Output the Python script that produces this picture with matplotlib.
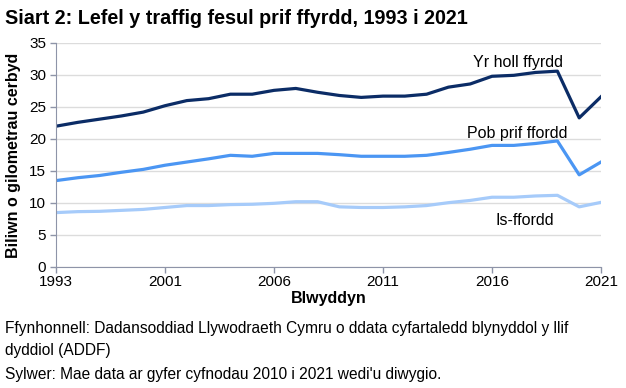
import numpy as np
import matplotlib
matplotlib.use("Agg")
import matplotlib.pyplot as plt

plt.rcParams['font.family'] = ['Liberation Sans', 'DejaVu Sans']

# years on the category axis (only every fifth is labelled)
years = ['1993', '1995', '1997', '1999', '2000', '2001', '2002', '2003', '2004',
         '2005', '2006', '2007', '2008', '2009', '2010', '2011', '2012', '2013',
         '2014', '2015', '2016', '2017', '2018', '2019', '2020', '2021']
tick_years = ['1993', '2001', '2006', '2011', '2016', '2021']

all_roads = [22.0, 22.6, 23.1, 23.6, 24.2, 25.2, 26.0, 26.3, 27.0, 27.0, 27.6, 27.9,
             27.3, 26.8, 26.5, 26.7, 26.7, 27.0, 28.1, 28.6, 29.8, 29.95, 30.4, 30.6,
             23.3, 26.6]
major_roads = [13.5, 13.95, 14.3, 14.8, 15.25, 15.9, 16.4, 16.9, 17.45, 17.3, 17.75,
               17.75, 17.75, 17.55, 17.3, 17.3, 17.3, 17.45, 17.9, 18.4, 19.0, 19.0,
               19.3, 19.7, 14.4, 16.4]
minor_roads = [8.5, 8.65, 8.7, 8.85, 9.0, 9.3, 9.6, 9.6, 9.75, 9.8, 9.95, 10.2, 10.2,
               9.4, 9.3, 9.3, 9.4, 9.6, 10.05, 10.4, 10.9, 10.9, 11.1, 11.2, 9.4, 10.1]

series = [
    ('Yr holl ffyrdd', all_roads, '#0b2c66'),
    ('Pob prif ffordd', major_roads, '#4b96f3'),
    ('Is-ffordd', minor_roads, '#a6cbfa'),
]

fig = plt.figure(figsize=(6.26, 3.88), dpi=100)
ax = fig.add_axes([56/626, 1-267/388, (601-56)/626, (267-43)/388])

x = np.arange(len(years))
for name, vals, col in series:
    ax.plot(x, vals, color=col, lw=2.3, solid_joinstyle='round')

ax.set_xlim(0, len(years)-1)
ax.set_ylim(0, 35)
ax.set_yticks(np.arange(0, 36, 5))
ax.set_xticks([years.index(y) for y in tick_years])
ax.set_xticklabels(tick_years)
ax.tick_params(axis='both', labelsize=11, color='#8e94a8', length=4, width=1)
ax.tick_params(axis='x', pad=2)
ax.tick_params(axis='y', pad=3)
ax.grid(axis='y', color='#dcdcdc', lw=1)
ax.set_axisbelow(True)
for s in ['top', 'right']:
    ax.spines[s].set_visible(False)
for s in ['left', 'bottom']:
    ax.spines[s].set_color('#8e94a8')

ax.set_xlabel('Blwyddyn', fontsize=11.5, fontweight='bold', labelpad=1)
ax.set_ylabel('Biliwn o gilometrau cerbyd', fontsize=11.5, fontweight='bold', labelpad=6)

# line labels
ax.text(21.2, 32.0, 'Yr holl ffyrdd', fontsize=11.5, ha='center', va='center')
ax.text(21.15, 20.9, 'Pob prif ffordd', fontsize=11.5, ha='center', va='center')
ax.text(21.5, 7.3, 'Is-ffordd', fontsize=11.5, ha='center', va='center')

fig.text(5/626, 1-18/388, 'Siart 2: Lefel y traffig fesul prif ffyrdd, 1993 i 2021',
         fontsize=14.2, fontweight='bold', va='center', ha='left')
fig.text(5/626, 1-328/388,
         'Ffynhonnell: Dadansoddiad Llywodraeth Cymru o ddata cyfartaledd blynyddol y llif',
         fontsize=11.2, va='center', ha='left')
fig.text(5/626, 1-350/388, 'dyddiol (ADDF)', fontsize=11.2, va='center', ha='left')
fig.text(5/626, 1-374/388, "Sylwer: Mae data ar gyfer cyfnodau 2010 i 2021 wedi'u diwygio.",
         fontsize=11.2, va='center', ha='left')

fig.savefig('out.png', dpi=100)
